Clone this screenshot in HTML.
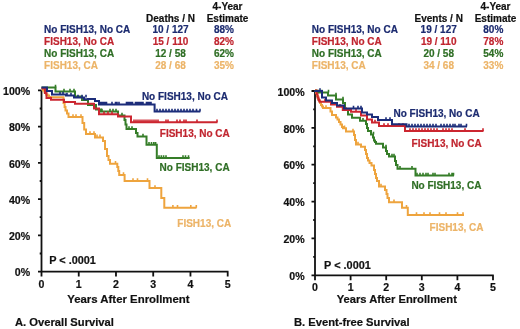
<!DOCTYPE html>
<html><head><meta charset="utf-8"><style>
html,body{margin:0;padding:0;background:#fff;width:520px;height:329px;overflow:hidden;}
svg{display:block;font-family:"Liberation Sans",sans-serif;filter:blur(0.45px);}
</style></head><body>
<svg width="520" height="329" viewBox="0 0 520 329" font-family="Liberation Sans, sans-serif" font-weight="bold"><text x="227.5" y="10.2" fill="#111" stroke="#111" stroke-width="0.2" font-size="10" text-anchor="middle">4-Year</text>
<text x="227.5" y="21.8" fill="#111" stroke="#111" stroke-width="0.2" font-size="10" text-anchor="middle">Estimate</text>
<text x="170.5" y="21.8" fill="#111" stroke="#111" stroke-width="0.2" font-size="10" text-anchor="middle">Deaths / N</text>
<text x="44.1" y="33.0" fill="#1c2b70" stroke="#1c2b70" stroke-width="0.2" font-size="10" text-anchor="start">No FISH13, No CA</text>
<text x="170.5" y="33.0" fill="#1c2b70" stroke="#1c2b70" stroke-width="0.2" font-size="10" text-anchor="middle">10 / 127</text>
<text x="224" y="33.0" fill="#1c2b70" stroke="#1c2b70" stroke-width="0.2" font-size="10" text-anchor="middle">88%</text>
<text x="44.1" y="45.1" fill="#c0252f" stroke="#c0252f" stroke-width="0.2" font-size="10" text-anchor="start">FISH13, No CA</text>
<text x="170.5" y="45.1" fill="#c0252f" stroke="#c0252f" stroke-width="0.2" font-size="10" text-anchor="middle">15 / 110</text>
<text x="224" y="45.1" fill="#c0252f" stroke="#c0252f" stroke-width="0.2" font-size="10" text-anchor="middle">82%</text>
<text x="44.1" y="56.9" fill="#2f6e25" stroke="#2f6e25" stroke-width="0.2" font-size="10" text-anchor="start">No FISH13, CA</text>
<text x="170.5" y="56.9" fill="#2f6e25" stroke="#2f6e25" stroke-width="0.2" font-size="10" text-anchor="middle">12 / 58</text>
<text x="224" y="56.9" fill="#2f6e25" stroke="#2f6e25" stroke-width="0.2" font-size="10" text-anchor="middle">62%</text>
<text x="44.1" y="68.5" fill="#ecb468" stroke="#ecb468" stroke-width="0.2" font-size="10" text-anchor="start">FISH13, CA</text>
<text x="170.5" y="68.5" fill="#ecb468" stroke="#ecb468" stroke-width="0.2" font-size="10" text-anchor="middle">28 / 68</text>
<text x="224" y="68.5" fill="#ecb468" stroke="#ecb468" stroke-width="0.2" font-size="10" text-anchor="middle">35%</text>
<text x="495.5" y="10.2" fill="#111" stroke="#111" stroke-width="0.2" font-size="10" text-anchor="middle">4-Year</text>
<text x="495.5" y="21.8" fill="#111" stroke="#111" stroke-width="0.2" font-size="10" text-anchor="middle">Estimate</text>
<text x="438.7" y="21.8" fill="#111" stroke="#111" stroke-width="0.2" font-size="10" text-anchor="middle">Events / N</text>
<text x="311.8" y="33.0" fill="#1c2b70" stroke="#1c2b70" stroke-width="0.2" font-size="10" text-anchor="start">No FISH13, No CA</text>
<text x="438.7" y="33.0" fill="#1c2b70" stroke="#1c2b70" stroke-width="0.2" font-size="10" text-anchor="middle">19 / 127</text>
<text x="493.3" y="33.0" fill="#1c2b70" stroke="#1c2b70" stroke-width="0.2" font-size="10" text-anchor="middle">80%</text>
<text x="311.8" y="45.1" fill="#c0252f" stroke="#c0252f" stroke-width="0.2" font-size="10" text-anchor="start">FISH13, No CA</text>
<text x="438.7" y="45.1" fill="#c0252f" stroke="#c0252f" stroke-width="0.2" font-size="10" text-anchor="middle">19 / 110</text>
<text x="493.3" y="45.1" fill="#c0252f" stroke="#c0252f" stroke-width="0.2" font-size="10" text-anchor="middle">78%</text>
<text x="311.8" y="56.9" fill="#2f6e25" stroke="#2f6e25" stroke-width="0.2" font-size="10" text-anchor="start">No FISH13, CA</text>
<text x="438.7" y="56.9" fill="#2f6e25" stroke="#2f6e25" stroke-width="0.2" font-size="10" text-anchor="middle">20 / 58</text>
<text x="493.3" y="56.9" fill="#2f6e25" stroke="#2f6e25" stroke-width="0.2" font-size="10" text-anchor="middle">54%</text>
<text x="311.8" y="68.5" fill="#ecb468" stroke="#ecb468" stroke-width="0.2" font-size="10" text-anchor="start">FISH13, CA</text>
<text x="438.7" y="68.5" fill="#ecb468" stroke="#ecb468" stroke-width="0.2" font-size="10" text-anchor="middle">34 / 68</text>
<text x="493.3" y="68.5" fill="#ecb468" stroke="#ecb468" stroke-width="0.2" font-size="10" text-anchor="middle">33%</text>
<text x="30.1" y="95.0" fill="#111" stroke="#111" stroke-width="0.2" font-size="10.6" text-anchor="end">100%</text>
<text x="30.1" y="131.2" fill="#111" stroke="#111" stroke-width="0.2" font-size="10.6" text-anchor="end">80%</text>
<text x="30.1" y="167.5" fill="#111" stroke="#111" stroke-width="0.2" font-size="10.6" text-anchor="end">60%</text>
<text x="30.1" y="203.7" fill="#111" stroke="#111" stroke-width="0.2" font-size="10.6" text-anchor="end">40%</text>
<text x="30.1" y="240.0" fill="#111" stroke="#111" stroke-width="0.2" font-size="10.6" text-anchor="end">20%</text>
<text x="30.1" y="276.2" fill="#111" stroke="#111" stroke-width="0.2" font-size="10.6" text-anchor="end">0%</text>
<text x="41.5" y="288" fill="#111" stroke="#111" stroke-width="0.2" font-size="10.6" text-anchor="middle">0</text>
<text x="78.74000000000001" y="288" fill="#111" stroke="#111" stroke-width="0.2" font-size="10.6" text-anchor="middle">1</text>
<text x="115.98" y="288" fill="#111" stroke="#111" stroke-width="0.2" font-size="10.6" text-anchor="middle">2</text>
<text x="153.22" y="288" fill="#111" stroke="#111" stroke-width="0.2" font-size="10.6" text-anchor="middle">3</text>
<text x="190.46" y="288" fill="#111" stroke="#111" stroke-width="0.2" font-size="10.6" text-anchor="middle">4</text>
<text x="227.70000000000002" y="288" fill="#111" stroke="#111" stroke-width="0.2" font-size="10.6" text-anchor="middle">5</text>
<path d="M41.5,90.4V271.6M39.0,271.6H228.50000000000003M38.0,90.4H41.5M38.0,126.6H41.5M38.0,162.9H41.5M38.0,199.1H41.5M38.0,235.4H41.5M38.0,271.6H41.5M39.7,108.5H41.5M39.7,144.8H41.5M39.7,181.0H41.5M39.7,217.2H41.5M39.7,253.5H41.5M41.5,271.6v5M78.74000000000001,271.6v5M115.98,271.6v5M153.22,271.6v5M190.46,271.6v5M227.70000000000002,271.6v5" stroke="#111" stroke-width="1.8" fill="none"/>
<text x="49.2" y="264" fill="#111" stroke="#111" stroke-width="0.2" font-size="10.9" text-anchor="start">P &lt; .0001</text>
<text x="67.2" y="302.6" fill="#111" stroke="#111" stroke-width="0.2" font-size="11.4" text-anchor="start">Years After Enrollment</text>
<text x="15" y="326.2" fill="#111" stroke="#111" stroke-width="0.2" font-size="11.2" text-anchor="start">A. Overall Survival</text>
<text x="304.6" y="95.6" fill="#111" stroke="#111" stroke-width="0.2" font-size="10.6" text-anchor="end">100%</text>
<text x="304.6" y="132.5" fill="#111" stroke="#111" stroke-width="0.2" font-size="10.6" text-anchor="end">80%</text>
<text x="304.6" y="169.3" fill="#111" stroke="#111" stroke-width="0.2" font-size="10.6" text-anchor="end">60%</text>
<text x="304.6" y="206.2" fill="#111" stroke="#111" stroke-width="0.2" font-size="10.6" text-anchor="end">40%</text>
<text x="304.6" y="243.0" fill="#111" stroke="#111" stroke-width="0.2" font-size="10.6" text-anchor="end">20%</text>
<text x="304.6" y="279.9" fill="#111" stroke="#111" stroke-width="0.2" font-size="10.6" text-anchor="end">0%</text>
<text x="315.0" y="291.3" fill="#111" stroke="#111" stroke-width="0.2" font-size="10.6" text-anchor="middle">0</text>
<text x="350.6" y="291.3" fill="#111" stroke="#111" stroke-width="0.2" font-size="10.6" text-anchor="middle">1</text>
<text x="386.2" y="291.3" fill="#111" stroke="#111" stroke-width="0.2" font-size="10.6" text-anchor="middle">2</text>
<text x="421.8" y="291.3" fill="#111" stroke="#111" stroke-width="0.2" font-size="10.6" text-anchor="middle">3</text>
<text x="457.4" y="291.3" fill="#111" stroke="#111" stroke-width="0.2" font-size="10.6" text-anchor="middle">4</text>
<text x="493.0" y="291.3" fill="#111" stroke="#111" stroke-width="0.2" font-size="10.6" text-anchor="middle">5</text>
<path d="M315,91V275.3M312.5,275.3H493.8M311.5,91.0H315M311.5,127.9H315M311.5,164.7H315M311.5,201.6H315M311.5,238.4H315M311.5,275.3H315M313.2,109.4H315M313.2,146.3H315M313.2,183.2H315M313.2,220.0H315M313.2,256.9H315M315.0,275.3v5M350.6,275.3v5M386.2,275.3v5M421.8,275.3v5M457.4,275.3v5M493.0,275.3v5" stroke="#111" stroke-width="1.8" fill="none"/>
<text x="324.1" y="268.7" fill="#111" stroke="#111" stroke-width="0.2" font-size="10.9" text-anchor="start">P &lt; .0001</text>
<text x="336.7" y="302.7" fill="#111" stroke="#111" stroke-width="0.2" font-size="11.2" text-anchor="start">Years After Enrollment</text>
<text x="294" y="326.2" fill="#111" stroke="#111" stroke-width="0.2" font-size="11.2" text-anchor="start">B. Event-free Survival</text>
<path d="M41.5,88.5H43V90.5H44.5V92.5H46V94.5H47.5V95.5H49V97H50.5V97.3H63.5V103H64.6V107H65.5V110.5H67V113.5H68.5V117H82.5V123H84.2V129.5H86V134H95V137.4H103V141H105V149H107V156H108.5V160H110V163.8H117.3V167H118.3V171H119.2V175H124.6V181H149.5V188H161.3V198H164.3V207.8H196.5" stroke="#eea43e" stroke-width="2" fill="none"/>
<path d="M73,117v-2.8M76,117v-2.8M81,117v-2.8M90,134v-2.8M94,134v-2.8M97,137.4v-2.8M100,137.4v-2.8M115.5,163.8v-2.8M123.5,175v-2.8M133,181v-2.8M137.5,181v-2.8M147.5,181v-2.8M155,188v-2.8M172.9,207.8v-2.8M177.5,207.8v-2.8M190.8,207.8v-2.8M196.3,207.8v-2.8" stroke="#eea43e" stroke-width="1.6" fill="none"/>
<path d="M41.5,87.5H55.5V91.5H75V96.5H82V100H88V105H96V109.5H101V111.5H118V115.5H124.5V120H125.5V124.5H126.5V129H136V133H137.5V136.5H146.5V144.7H156.8V158H189.6" stroke="#357d28" stroke-width="2" fill="none"/>
<path d="M55.5,87.5v-2.8M64,91.5v-2.8M70,91.5v-2.8M74,91.5v-2.8M102,111.5v-2.8M110,111.5v-2.8M113,111.5v-2.8M116,111.5v-2.8M122,115.5v-2.8M129,129v-2.8M132,129v-2.8M143,136.5v-2.8M149,144.7v-2.8M151.5,144.7v-2.8M153.8,144.7v-2.8M155.6,144.7v-2.8M159,158v-2.8M161.3,158v-2.8M163.6,158v-2.8M166,158v-2.8M183,158v-2.8M185.5,158v-2.8M188.5,158v-2.8" stroke="#357d28" stroke-width="1.6" fill="none"/>
<path d="M41.5,88.5H45V93H46.5V98H51V99.7H64V102H75V103.8H94V108.5H99V114.3H118V116.6H131V122.2H217.5" stroke="#cc2630" stroke-width="2" fill="none"/>
<path d="M104,114.3v-2.8M108,114.3v-2.8M112,114.3v-2.8M134,122.2v-2.8M136,122.2v-2.8M138,122.2v-2.8M140,122.2v-2.8M142,122.2v-2.8M144,122.2v-2.8M146,122.2v-2.8M148,122.2v-2.8M150,122.2v-2.8M152,122.2v-2.8M154,122.2v-2.8M156,122.2v-2.8M158,122.2v-2.8M166,122.2v-2.8M168,122.2v-2.8M177,122.2v-2.8M180,122.2v-2.8M184,122.2v-2.8M186,122.2v-2.8M197,122.2v-2.8M217,122.2v-2.8" stroke="#cc2630" stroke-width="1.6" fill="none"/>
<path d="M41.5,87.5H47V91H52V94.5H66V95.5H74V97.5H84V99.3H88V99H95V101H99V104.6H154.6V111.6H200.3" stroke="#1c2d7a" stroke-width="2" fill="none"/>
<path d="M60,94.5v-2.8M63,94.5v-2.8M67,95.5v-2.8M71,95.5v-2.8M78,97.5v-2.8M82,97.5v-2.8M86,97.5v-2.8M100.5,104.6v-2.8M102,104.6v-2.8M103.5,104.6v-2.8M105,104.6v-2.8M106.5,104.6v-2.8M112,104.6v-2.8M115.5,104.6v-2.8M117,104.6v-2.8M119,104.6v-2.8M126.5,104.6v-2.8M128,104.6v-2.8M129.5,104.6v-2.8M131,104.6v-2.8M132.5,104.6v-2.8M135.5,104.6v-2.8M137,104.6v-2.8M138.5,104.6v-2.8M140,104.6v-2.8M141.5,104.6v-2.8M143,104.6v-2.8M146.5,104.6v-2.8M148,104.6v-2.8M149.5,104.6v-2.8M151,104.6v-2.8M157,111.6v-2.8M160,111.6v-2.8M163,111.6v-2.8M166,111.6v-2.8M169,111.6v-2.8M172,111.6v-2.8M175,111.6v-2.8M178,111.6v-2.8M181,111.6v-2.8M184,111.6v-2.8M187,111.6v-2.8M190,111.6v-2.8M193,111.6v-2.8M196.5,111.6v-2.8M200,111.6v-2.8" stroke="#1c2d7a" stroke-width="1.6" fill="none"/>
<path d="M315,90.5H316V93H317V96H318V99H319V101H320V103H321V105H322V106.5H323V108H330.5V111.5H332V115H336V117.5H337.5V119.5H339V122H340.5V124.5H342V127H343V128.3H346V131.5H354V135H355V140H356V144.5H361V146.8H365V150H366V154H367V158H368V160.5H369.5V163H371.5V165.5H374V170H375V174H376V178H377V181H379V186.5H385V190H386.5V194H387.5V198H389V202.2H402V207.8H407.8V215H464" stroke="#eea43e" stroke-width="2" fill="none"/>
<path d="M326,108v-2.8M344.5,128.3v-2.8M353,131.5v-2.8M358,144.5v-2.8M381,186.5v-2.8M394,202.2v-2.8M406.5,207.8v-2.8M416.5,215v-2.8M424,215v-2.8M430,215v-2.8M439.5,215v-2.8M446,215v-2.8M457.5,215v-2.8M463,215v-2.8" stroke="#eea43e" stroke-width="1.6" fill="none"/>
<path d="M315,90.5V90.8H318V92.5H328V95.5H336V99.5H343V103H345V109H348V114.5H352V117.8H360V120.8H366V124H367V128H368V131H371V134.5H373V137.5H374V140.5H375V142H376V143.8H383V147.5H386V151H387V154H389V156.5H395V161H396V165H397.5V168.8H415.5V175.5H454" stroke="#357d28" stroke-width="2" fill="none"/>
<path d="M322,92.5v-2.8M328.5,92.5v-2.8M336,95.5v-2.8M343,99.5v-2.8M363,120.8v-2.8M373.5,134.5v-2.8M386,147.5v-2.8M392,156.5v-2.8M394,156.5v-2.8M400,168.8v-2.8M412,168.8v-2.8M417,175.5v-2.8M420,175.5v-2.8M423,175.5v-2.8M426,175.5v-2.8M428,175.5v-2.8M433,175.5v-2.8M435,175.5v-2.8M449,175.5v-2.8M452,175.5v-2.8M453.5,175.5v-2.8" stroke="#357d28" stroke-width="1.6" fill="none"/>
<path d="M315,90.5H316.5V94H317.5V97.5H318.5V100H319.5V101.8H331V104.5H337V106.8H342.8V110H351V111.8H361V115.5H367V119.5H372V122.5H379V126H405V131H483.5" stroke="#cc2630" stroke-width="2" fill="none"/>
<path d="M325,101.8v-2.8M340,106.8v-2.8M346,110v-2.8M356,111.8v-2.8M375,122.5v-2.8M384,126v-2.8M388,126v-2.8M399,126v-2.8M403,126v-2.8M410,131v-2.8M413,131v-2.8M416,131v-2.8M419,131v-2.8M422,131v-2.8M425,131v-2.8M428,131v-2.8M431,131v-2.8M434,131v-2.8M437,131v-2.8M443,131v-2.8M446,131v-2.8M449,131v-2.8M452,131v-2.8M465,131v-2.8M483,131v-2.8" stroke="#cc2630" stroke-width="1.6" fill="none"/>
<path d="M315,90.5V91H322V97.5H326V100.5H332V103H337V105.5H344V108.5H362V112.5H367V114.5H372V117H378V120H392V124.2H406.5V126.6H467" stroke="#1c2d7a" stroke-width="2" fill="none"/>
<path d="M320,91v-2.8M353.5,108.5v-2.8M358,108.5v-2.8M361,108.5v-2.8M386,120v-2.8M390,120v-2.8M409,126.6v-2.8M412,126.6v-2.8M415,126.6v-2.8M418,126.6v-2.8M421,126.6v-2.8M424,126.6v-2.8M427,126.6v-2.8M430,126.6v-2.8M433,126.6v-2.8M436,126.6v-2.8M441,126.6v-2.8M444,126.6v-2.8M447,126.6v-2.8M450,126.6v-2.8M453,126.6v-2.8M455,126.6v-2.8M459,126.6v-2.8M461,126.6v-2.8M466.5,126.6v-2.8" stroke="#1c2d7a" stroke-width="1.6" fill="none"/>
<text x="141.9" y="100.4" fill="#1c2b70" stroke="#1c2b70" stroke-width="0.2" font-size="10" text-anchor="start">No FISH13, No CA</text>
<text x="159.8" y="136.9" fill="#c0252f" stroke="#c0252f" stroke-width="0.2" font-size="10" text-anchor="start">FISH13, No CA</text>
<text x="159.6" y="170.7" fill="#2f6e25" stroke="#2f6e25" stroke-width="0.2" font-size="10" text-anchor="start">No FISH13, CA</text>
<text x="177.3" y="227" fill="#ecb468" stroke="#ecb468" stroke-width="0.2" font-size="10" text-anchor="start">FISH13, CA</text>
<text x="393.5" y="117.2" fill="#1c2b70" stroke="#1c2b70" stroke-width="0.2" font-size="10" text-anchor="start">No FISH13, No CA</text>
<text x="411.6" y="147.2" fill="#c0252f" stroke="#c0252f" stroke-width="0.2" font-size="10" text-anchor="start">FISH13, No CA</text>
<text x="411.4" y="189.3" fill="#2f6e25" stroke="#2f6e25" stroke-width="0.2" font-size="10" text-anchor="start">No FISH13, CA</text>
<text x="429.6" y="231.1" fill="#ecb468" stroke="#ecb468" stroke-width="0.2" font-size="10" text-anchor="start">FISH13, CA</text></svg>
</body></html>
